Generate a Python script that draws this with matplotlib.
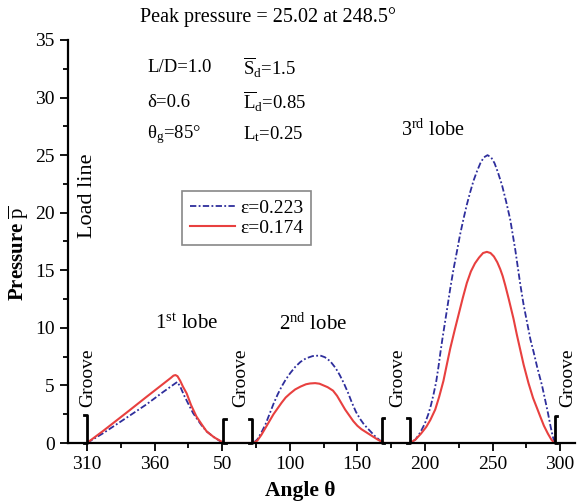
import matplotlib
matplotlib.use("Agg")
import matplotlib.pyplot as plt

plt.rcParams['font.family'] = ['Liberation Serif', 'DejaVu Serif']
plt.rcParams['mathtext.fontset'] = 'custom'
plt.rcParams['mathtext.rm'] = 'Liberation Serif'
plt.rcParams['mathtext.it'] = 'Liberation Serif:italic'
plt.rcParams['mathtext.bf'] = 'Liberation Serif:bold'

# angles are unwrapped: values above 360 continue past 0 deg
theta_223 = [310, 322, 340, 354, 366, 372, 376.8, 379, 382, 385, 388.5, 392, 395, 398.6, 404, 408, 411,
             433, 436, 439, 442, 445, 448, 451, 454, 457, 460.3, 464, 468, 472, 477, 482.5,
             486, 490, 494, 497, 500, 503, 506, 509, 512, 515, 519, 523, 527, 530,
             549, 553, 556.5, 560, 562.5, 564.5, 566.5, 568.3, 570, 571.5, 573, 575, 577, 578.7,
             581, 583.6, 586, 588.6, 591, 593.5, 596, 598.5, 601, 603.5, 606.3, 609, 611.5, 614,
             617, 620, 623.1, 626.8, 630.5, 633, 635.5, 638, 640.4, 643, 646.6, 649, 651, 653,
             654.5, 656]
p_223 = [0, 0.85, 2.25, 3.35, 4.4, 4.9, 5.3, 4.9, 4.1, 3.4, 2.6, 2.0, 1.5, 1.0, 0.5, 0.2, 0,
         0, 0.3, 0.9, 1.6, 2.5, 3.4, 4.2, 4.9, 5.5, 6.06, 6.6, 7.05, 7.35, 7.55, 7.6,
         7.45, 7.1, 6.5, 5.9, 5.2, 4.4, 3.5, 2.7, 2.1, 1.6, 1.1, 0.6, 0.2, 0,
         0, 0.3, 0.9, 1.7, 2.5, 3.3, 4.3, 5.3, 6.6, 7.9, 9.1, 10.6, 12.1, 13.4,
         15.0, 16.6, 18.1, 19.5, 20.7, 21.8, 22.8, 23.6, 24.3, 24.8, 25.0, 24.8, 24.3, 23.5,
         22.4, 21.0, 19.4, 16.8, 13.8, 12.0, 10.5, 9.0, 7.9, 6.6, 5.0, 3.7, 2.6, 1.4,
         0.6, 0]

theta_174 = [310, 322, 340, 354, 366, 372, 374, 375.5, 377, 379, 381, 383.8, 387, 391, 395, 398.6,
             404, 408.4, 411,
             433, 436, 439, 442, 445, 448, 451, 454, 457, 460.3, 464, 468, 472, 475, 478.8, 482,
             485, 488, 492, 495, 498, 501, 504, 507, 510, 513, 517, 521, 525, 529, 530,
             549, 553, 557, 561, 564, 567.6, 570.5, 573.7, 576, 578.7, 582, 585, 588, 591, 594,
             597, 600, 603, 605.8, 608.5, 611, 613.5, 615.7, 617.5, 619.4, 622, 625.5, 628,
             630.5, 633, 636.6, 640, 643, 645.3, 648, 651, 653.5, 655.7]
p_174 = [0, 1.05, 2.7, 4.0, 5.1, 5.65, 5.85, 5.9, 5.8, 5.4, 4.9, 4.3, 3.3, 2.3, 1.6, 1.0,
         0.5, 0.2, 0,
         0, 0.2, 0.7, 1.3, 1.9, 2.5, 3.0, 3.5, 3.95, 4.3, 4.65, 4.9, 5.1, 5.17, 5.2, 5.15,
         5.0, 4.85, 4.55, 4.1, 3.5, 2.9, 2.4, 1.9, 1.5, 1.2, 0.9, 0.6, 0.3, 0.05, 0,
         0, 0.3, 0.8, 1.4, 2.0, 2.9, 4.0, 5.4, 6.7, 8.2, 9.8, 11.2, 12.6, 13.9, 14.9,
         15.6, 16.1, 16.5, 16.6, 16.5, 16.2, 15.7, 15.1, 14.5, 13.7, 12.5, 10.8, 9.4,
         8.1, 6.8, 5.2, 3.9, 3.0, 2.3, 1.5, 0.8, 0.3, 0]

tick_pos = [310, 360, 410, 460, 510, 560, 610, 660]
tick_labels = ['310', '360', '50', '100', '150', '200', '250', '300']

# groove edges: (angle, side, height)
groove_edges = [(310, 'right', 2.4), (411, 'left', 2.1), (432, 'right', 2.1),
                (528, 'left', 2.2), (549, 'right', 2.2), (656, 'left', 2.35)]
groove_labels = [310.5, 423.6, 539.8, 666]

fig = plt.figure(figsize=(5.86, 5.04), dpi=100)
ax = fig.add_axes([68 / 586, 61 / 504, 507 / 586, 403 / 504])

ax.plot(theta_223, p_223, color='#2e2e9c', lw=1.3, ls=(0, (3.5, 1.3, 1, 1.3)), label='ε=0.223')
ax.plot(theta_174, p_174, color='#e8403f', lw=1.5, label='ε=0.174')

for x, side, h in groove_edges:
    w = 2.0 if side == 'left' else -2.0
    ax.plot([x + w, x, x, x + w], [h, h, 0, 0], color='black', lw=2, clip_on=False, zorder=5)
for x in groove_labels:
    ax.text(x, 3.1, 'Groove', rotation=90, ha='center', va='bottom', fontsize=14)

ax.text(310.5, 17.8, 'Load line', rotation=90, ha='center', va='bottom', fontsize=16)
ax.text(384, 10.3, '1$^{\\rm st}$ lobe', ha='center', va='center', fontsize=15)
ax.text(477.3, 10.3, '2$^{\\rm nd}$ lobe', ha='center', va='center', fontsize=15)
ax.text(566, 27.2, '3$^{\\rm rd}$ lobe', ha='center', va='center', fontsize=14.5)

ax.text(354.4, 32.6, 'L/D=1.0', va='center', fontsize=13.5)
ax.text(354.4, 29.6, 'δ=0.6', va='center', fontsize=13.5)
ax.text(354.4, 26.8, 'θ$_{\\rm g}$=85°', va='center', fontsize=13.5)
ax.text(425.5, 32.6, '$\\overline{\\rm S}_{\\rm d}$=1.5', va='center', fontsize=13.5)
ax.text(425.5, 29.6, '$\\overline{\\rm L}_{\\rm d}$=0.85', va='center', fontsize=13.5)
ax.text(425.5, 26.8, 'L$_{\\rm t}$=0.25', va='center', fontsize=13.5)

fig.text(267.5 / 586, 1 - 17 / 504, 'Peak pressure = 25.02 at 248.5°', ha='center', va='center', fontsize=14.5)

ax.set_xlim(296, 671)
ax.set_ylim(0, 35)
ax.set_xticks(tick_pos)
ax.set_xticklabels(tick_labels)
ax.set_xticks([335, 385, 435, 485, 535, 585, 635], minor=True)
ax.set_yticks(range(0, 36, 5))
ax.set_yticks([2.5 + 5 * i for i in range(7)], minor=True)
ax.tick_params(which='major', length=6, width=1.3, labelsize=14, direction='out')
ax.tick_params(which='minor', length=3.5, width=1.3, direction='out')

for side in ['top', 'right']:
    ax.spines[side].set_visible(False)
for side in ['left', 'bottom']:
    ax.spines[side].set_linewidth(1.6)

ax.set_xlabel('Angle θ', fontsize=15.5, fontweight='bold')
ax.xaxis.set_label_coords((300 - 68) / 507, -0.095)
ax.set_ylabel('Pressure $\\overline{\\rm p}$', fontsize=15, fontweight='bold')
ax.yaxis.set_label_coords(-0.072, (443 - 253) / 403)

leg = ax.legend(loc='upper left', bbox_to_anchor=(0.225, 0.625), fontsize=14, frameon=True,
                fancybox=False, edgecolor='#888888', framealpha=1, borderaxespad=0,
                handlelength=2.3, handletextpad=0.3, labelspacing=0.15, borderpad=0.4)
leg.get_frame().set_linewidth(1.2)

fig.savefig('out.png', dpi=100)
